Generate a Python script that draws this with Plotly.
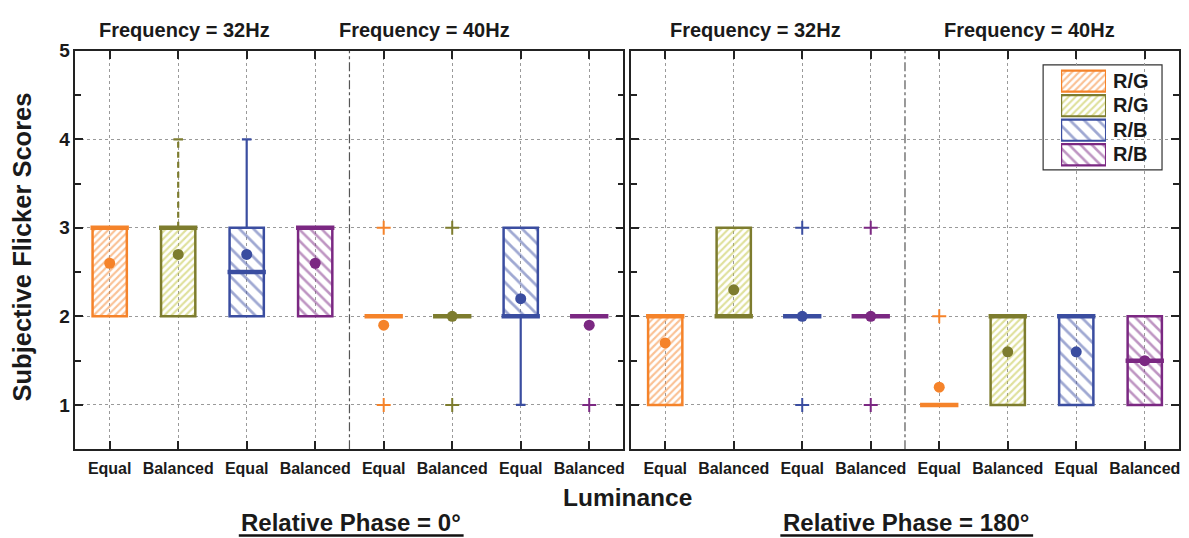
import plotly.graph_objects as go
import numpy as np

# ---------------- data ----------------
categories = ["Equal", "Balanced", "Equal", "Balanced", "Equal", "Balanced", "Equal", "Balanced"]
positions = [1, 2, 3, 4, 5, 6, 7, 8]
y_ticks = [1, 2, 3, 4, 5]
series_names = ["R/G", "R/G", "R/B", "R/B"]
freq_labels = ["Frequency = 32Hz", "Frequency = 40Hz"]
phase_labels = ["Relative Phase = 0°", "Relative Phase = 180°"]

# Relative phase = 0°
p0_q1 = [2, 2, 2, 2, 2, 2, 2, 2]
p0_q3 = [3, 3, 3, 3, 2, 2, 3, 2]
p0_median = [3, 3, 2.5, 3, 2, 2, 2, 2]
p0_mean = [2.6, 2.7, 2.7, 2.6, 1.9, 2.0, 2.2, 1.9]
p0_whisk_lo = [2, 2, 2, 2, 2, 2, 1, 2]
p0_whisk_hi = [3, 4, 4, 3, 2, 2, 3, 2]
p0_outliers = [[], [], [], [], [1, 3], [1, 3], [], [1]]

# Relative phase = 180°
p180_q1 = [1, 2, 2, 2, 1, 1, 1, 1]
p180_q3 = [2, 3, 2, 2, 1, 2, 2, 2]
p180_median = [2, 2, 2, 2, 1, 2, 2, 1.5]
p180_mean = [1.7, 2.3, 2.0, 2.0, 1.2, 1.6, 1.6, 1.5]
p180_whisk_lo = [1, 2, 2, 2, 1, 1, 1, 1]
p180_whisk_hi = [2, 3, 2, 2, 1, 2, 2, 2]
p180_outliers = [[], [], [1, 3], [1, 3], [2], [], [], []]

# ---------------- styles ----------------
line_colors = ["#F5832A", "#7D7C2E", "#3A4DA0", "#7B2882"]
hatch_colors = ["#F5832A", "#BFC23A", "#3F52A6", "#7E2C86"]
hatch_shapes = ["/", "/", "\\", "\\"]
hatch_sizes = [5, 5, 10, 8]
hatch_solidity = [0.42, 0.42, 0.28, 0.32]
whisker_dash = ["solid", "6px,4px", "solid", "solid"]
FONT = "Liberation Sans, Arial, Helvetica, sans-serif"
TXT = "#1a1a1a"

W, H = 1189, 538
def px_x(p):
    return p / W
def px_y(p):
    return 1 - p / H

fig = go.Figure()

panels = [
    dict(xa="x", ya="y", q1=p0_q1, q3=p0_q3, med=p0_median, mean=p0_mean,
         wlo=p0_whisk_lo, whi=p0_whisk_hi, out=p0_outliers),
    dict(xa="x2", ya="y2", q1=p180_q1, q3=p180_q3, med=p180_median, mean=p180_mean,
         wlo=p180_whisk_lo, whi=p180_whisk_hi, out=p180_outliers),
]

BOX_HALF = 0.25
MED_HALF = 0.28
CAP_HALF = 0.07

for pan in panels:
    pos = np.array(positions, dtype=float)
    q1 = np.array(pan["q1"], dtype=float)
    q3 = np.array(pan["q3"], dtype=float)
    med = np.array(pan["med"], dtype=float)
    mean = np.array(pan["mean"], dtype=float)
    wlo = np.array(pan["wlo"], dtype=float)
    whi = np.array(pan["whi"], dtype=float)
    for s in range(4):
        idx = [i for i in range(8) if i % 4 == s]
        # boxes (hatched bars)
        bidx = [i for i in idx if q3[i] > q1[i]]
        if bidx:
            fig.add_trace(go.Bar(
                x=pos[bidx], y=(q3 - q1)[bidx], base=q1[bidx], width=2 * BOX_HALF,
                xaxis=pan["xa"], yaxis=pan["ya"], showlegend=False, hoverinfo="skip",
                marker=dict(color="rgba(0,0,0,0)",
                            line=dict(color=line_colors[s], width=2.5),
                            pattern=dict(shape=hatch_shapes[s], fgcolor=hatch_colors[s],
                                         bgcolor="rgba(0,0,0,0)", size=hatch_sizes[s],
                                         solidity=hatch_solidity[s], fillmode="overlay")),
            ))
        # whiskers
        wx, wy = [], []
        cx, cy = [], []
        for i in idx:
            if whi[i] > q3[i]:
                wx += [pos[i], pos[i], None]
                wy += [q3[i], whi[i], None]
                cx += [pos[i] - CAP_HALF, pos[i] + CAP_HALF, None]
                cy += [whi[i], whi[i], None]
            if wlo[i] < q1[i]:
                wx += [pos[i], pos[i], None]
                wy += [q1[i], wlo[i], None]
                cx += [pos[i] - CAP_HALF, pos[i] + CAP_HALF, None]
                cy += [wlo[i], wlo[i], None]
        if wx:
            fig.add_trace(go.Scatter(x=wx, y=wy, mode="lines", xaxis=pan["xa"], yaxis=pan["ya"],
                                     line=dict(color=line_colors[s], width=2.2, dash=whisker_dash[s]),
                                     showlegend=False, hoverinfo="skip"))
            fig.add_trace(go.Scatter(x=cx, y=cy, mode="lines", xaxis=pan["xa"], yaxis=pan["ya"],
                                     line=dict(color=line_colors[s], width=2.2),
                                     showlegend=False, hoverinfo="skip"))
        # medians
        mx, my = [], []
        for i in idx:
            mx += [pos[i] - MED_HALF, pos[i] + MED_HALF, None]
            my += [med[i], med[i], None]
        fig.add_trace(go.Scatter(x=mx, y=my, mode="lines", xaxis=pan["xa"], yaxis=pan["ya"],
                                 line=dict(color=line_colors[s], width=4.5),
                                 showlegend=False, hoverinfo="skip"))
        # means
        fig.add_trace(go.Scatter(x=pos[idx], y=mean[idx], mode="markers",
                                 xaxis=pan["xa"], yaxis=pan["ya"],
                                 marker=dict(color=line_colors[s], size=11),
                                 showlegend=False, hoverinfo="skip"))
        # outliers
        ox, oy = [], []
        for i in idx:
            for v in pan["out"][i]:
                ox.append(pos[i]); oy.append(v)
        if ox:
            fig.add_trace(go.Scatter(x=ox, y=oy, mode="markers", xaxis=pan["xa"], yaxis=pan["ya"],
                                     marker=dict(symbol="cross-thin", size=10,
                                                 line=dict(color=line_colors[s], width=2)),
                                     showlegend=False, hoverinfo="skip"))

# ---------------- legend (mini axis with hatched swatches) ----------------
legend_rows = [4, 3, 2, 1]
for s in range(4):
    fig.add_trace(go.Bar(
        x=[1], y=[legend_rows[s]], base=[0], orientation="h", width=0.86,
        xaxis="x3", yaxis="y3", showlegend=False, hoverinfo="skip",
        marker=dict(color="rgba(0,0,0,0)", line=dict(color=line_colors[s], width=2.2),
                    pattern=dict(shape=hatch_shapes[s], fgcolor=hatch_colors[s],
                                 bgcolor="rgba(0,0,0,0)", size=hatch_sizes[s],
                                 solidity=hatch_solidity[s], fillmode="overlay")),
    ))

# ---------------- axes ----------------
ydom = [px_y(447.5), px_y(41.5)]
common_x = dict(range=[0.5, 8.5], tickmode="array", tickvals=positions,
                ticktext=["<b>" + c + "</b>" for c in categories],
                ticks="inside", ticklen=8, tickwidth=1.5, tickcolor="#222",
                showline=True, linecolor="#222", linewidth=1.8, mirror="allticks",
                showgrid=True, gridcolor="#9a9a9a", gridwidth=1, griddash="3px,3px",
                zeroline=False, tickfont=dict(family=FONT, size=16, color=TXT),
                ticklabelstandoff=4)
common_y = dict(range=[0.5, 5], tickmode="array", tickvals=y_ticks,
                ticktext=["<b>%d</b>" % v for v in y_ticks],
                ticks="inside", ticklen=8, tickwidth=1.5, tickcolor="#222",
                minor=dict(tickmode="array", tickvals=[1.5, 2.5, 3.5, 4.5], ticks="inside",
                           ticklen=6, tickwidth=1.5, tickcolor="#222", showgrid=False),
                showline=True, linecolor="#222", linewidth=1.8, mirror="allticks",
                showgrid=True, gridcolor="#9a9a9a", gridwidth=1, griddash="3px,3px",
                zeroline=False, tickfont=dict(family=FONT, size=19, color=TXT),
                domain=ydom)

fig.update_layout(
    width=W, height=H,
    margin=dict(l=0, r=0, t=0, b=0),
    paper_bgcolor="white", plot_bgcolor="white",
    barmode="overlay", showlegend=False,
    xaxis=dict(common_x, domain=[px_x(75.5), px_x(624)], anchor="y"),
    yaxis=dict(common_y, anchor="x", showticklabels=True),
    xaxis2=dict(common_x, domain=[px_x(631.5), px_x(1180)], anchor="y2"),
    yaxis2=dict(common_y, anchor="x2", showticklabels=False),
    xaxis3=dict(domain=[px_x(1062), px_x(1107)], range=[0, 1], visible=False, anchor="y3",
                fixedrange=True),
    yaxis3=dict(domain=[px_y(160), px_y(60)], range=[0.5, 4.5], visible=False, anchor="x3",
                fixedrange=True),
)

shapes = []
# frequency dividers
for xr, yr in [("x", "y"), ("x2", "y2")]:
    shapes.append(dict(type="line", xref=xr, yref=yr, x0=4.5, x1=4.5, y0=0.5, y1=5,
                       line=dict(color="#555", width=1.2, dash="dashdot"), layer="above"))
# legend border
shapes.append(dict(type="rect", xref="paper", yref="paper",
                   x0=px_x(1044), x1=px_x(1163), y0=px_y(163), y1=px_y(56),
                   line=dict(color="#333", width=1.2), fillcolor="white", layer="below"))
# underlines for phase labels
shapes.append(dict(type="line", xref="paper", yref="paper", x0=px_x(239), x1=px_x(464),
                   y0=px_y(535.5), y1=px_y(535.5), line=dict(color="#111", width=2.5)))
shapes.append(dict(type="line", xref="paper", yref="paper", x0=px_x(781), x1=px_x(1034),
                   y0=px_y(535.5), y1=px_y(535.5), line=dict(color="#111", width=2.5)))
fig.update_layout(shapes=shapes)

ann = []
def txt(x, y, t, size, **kw):
    d = dict(x=px_x(x), y=px_y(y), xref="paper", yref="paper", text=t, showarrow=False,
             font=dict(family=FONT, size=size, color=TXT), xanchor="center", yanchor="middle")
    d.update(kw)
    ann.append(d)

# frequency titles
for cx, lab in zip([185, 425, 756, 1030], freq_labels * 2):
    txt(cx, 20, "<b>" + lab + "</b>", 20)
# axis titles
txt(628, 497, "<b>Luminance</b>", 24.5)
txt(22, 241, "<b>Subjective Flicker Scores</b>", 25.5, textangle=-90)
txt(351, 522, "<b>" + phase_labels[0] + "</b>", 24)
txt(907, 522, "<b>" + phase_labels[1] + "</b>", 24)
# legend labels
for s, yc in enumerate([72.5, 96.5, 122, 146.5]):
    txt(1112, yc, "<b>" + series_names[s] + "</b>", 20, xanchor="left")
fig.update_layout(annotations=ann)

fig.write_html("out.html",
               post_script="document.body.style.margin='0';document.body.style.overflow='hidden';")
